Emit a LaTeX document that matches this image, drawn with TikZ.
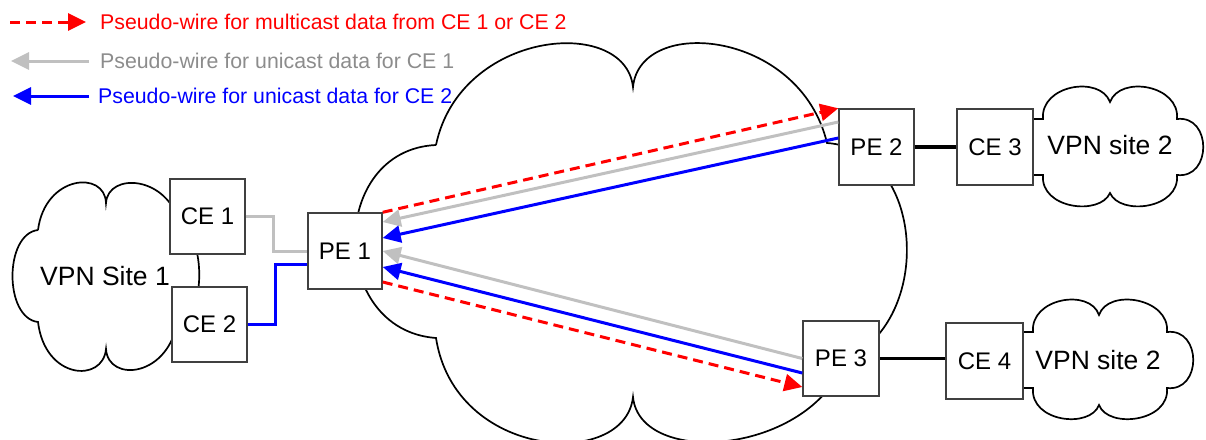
\documentclass[tikz,border=0pt]{standalone}
\usepackage{fontspec}
\setmainfont{Liberation Sans}
\usetikzlibrary{arrows.meta}
\definecolor{pwred}{RGB}{255,0,0}
\definecolor{pwgray}{RGB}{192,192,192}
\definecolor{pwgraytext}{RGB}{140,140,140}
\definecolor{pwblue}{RGB}{0,0,255}
\definecolor{boxline}{RGB}{64,64,64}
\tikzset{
  box/.style={draw=boxline, line width=1.4pt, fill=white, minimum width=75pt, minimum height=75pt, inner sep=0pt, font=\fontsize{24}{28}\selectfont},
  cloudline/.style={draw=black, line width=1.7pt},
  cloudtext/.style={font=\fontsize{26.5}{30}\selectfont, inner sep=0pt},
  legendtext/.style={font=\fontsize{21.3}{25}\selectfont, anchor=west, inner sep=0pt},
  tip/.style={-{Triangle[length=18pt,width=17pt]}},
  redwire/.style={pwred, line width=3pt, dash pattern=on 10pt off 6pt, tip},
  graywire/.style={pwgray, line width=3pt, tip},
  bluewire/.style={pwblue, line width=3pt, tip},
  link/.style={black, line width=3.2pt}
}
\begin{document}
\begin{tikzpicture}[x=1pt,y=-1pt]
\useasboundingbox (0,0) rectangle (1206,439);
% big provider cloud
\draw[cloudline] (436,145) .. controls (460,30) and (625,15) .. (633,87)
  .. controls (640,15) and (800,30) .. (827,143)
  .. controls (925,150) and (935,320) .. (845,360)
  .. controls (810,455) and (640,468) .. (633,397)
  .. controls (625,470) and (455,460) .. (436,338)
  .. controls (328,330) and (328,150) .. (436,145);
% VPN Site 1 cloud
\draw[cloudline] (38,230) .. controls (45,175) and (105,170) .. (106,203)
  .. controls (108,172) and (168,175) .. (180,225)
  .. controls (206,235) and (206,320) .. (178,318)
  .. controls (170,378) and (108,383) .. (106,349)
  .. controls (103,383) and (45,380) .. (38,322)
  .. controls (4,318) and (4,234) .. (38,230);
% VPN site 2 upper cloud
\draw[cloudline] (1033,119) -- (1043,119)
  .. controls (1040,85) and (1100,75) .. (1110,102)
  .. controls (1120,75) and (1180,85) .. (1177,119)
  .. controls (1212,115) and (1212,179) .. (1177,175)
  .. controls (1180,209) and (1120,216) .. (1110,193)
  .. controls (1100,216) and (1040,209) .. (1043,175) -- (1033,175);
% VPN site 2 lower cloud
\draw[cloudline] (1023,332) -- (1033,332)
  .. controls (1030,298) and (1090,288) .. (1099,315)
  .. controls (1108,288) and (1170,298) .. (1167,332)
  .. controls (1202,328) and (1202,392) .. (1167,388)
  .. controls (1170,422) and (1108,429) .. (1099,405)
  .. controls (1090,429) and (1030,422) .. (1033,388) -- (1023,388);
% cloud labels
\node[cloudtext] (site1) at (105,276) {VPN Site 1};
\node[cloudtext] (site2a) at (1110,145) {VPN site 2};
\node[cloudtext] (site2b) at (1098,360) {VPN site 2};
% boxes
\node[box] (ce1) at (207.5,216.5) {CE 1};
\node[box] (ce2) at (209.5,324.5) {CE 2};
\node[box, minimum width=74pt, minimum height=76pt] (pe1) at (345,251) {PE 1};
\node[box, minimum height=76pt] (pe2) at (876.5,147) {PE 2};
\node[box, minimum width=76pt, minimum height=76pt] (ce3) at (995,147) {CE 3};
\node[box, minimum width=76pt] (pe3) at (841,358.5) {PE 3};
\node[box, minimum width=77pt, minimum height=76pt] (ce4) at (984.5,361) {CE 4};
% access links
\draw[pwgray, line width=3pt] (ce1.east) -- ++(28,0) |- (pe1.west);
\draw[pwblue, line width=3pt] (ce2.east) -- ++(28,0) |- ([yshift=-13pt]pe1.west);
\draw[link] (pe2.east) -- (ce3.west);
\draw[link] (pe3.east) -- (pe3.east -| ce4.west);
% pseudo-wires
\draw[redwire] (pe1.north east) -- (pe2.north west);
\draw[graywire] ([yshift=25pt]pe2.west) -- ([yshift=29pt]pe1.east);
\draw[bluewire] ([yshift=9pt]pe2.west) -- ([yshift=13pt]pe1.east);
\draw[graywire] (pe3.west) -- (pe1.east);
\draw[bluewire] ([yshift=-14.5pt]pe3.west) -- ([yshift=-16pt]pe1.east);
\draw[redwire] ([yshift=-31pt]pe1.east) -- ([yshift=-28.5pt]pe3.west);
% legend
\coordinate (l1a) at (10,22); \coordinate (l1b) at (86,22);
\coordinate (l2a) at (89,61); \coordinate (l2b) at (11,61);
\coordinate (l3a) at (89,96); \coordinate (l3b) at (13,96);
\draw[redwire] (l1a) -- (l1b);
\draw[graywire] (l2a) -- (l2b);
\draw[bluewire] (l3a) -- (l3b);
\node[legendtext, text=pwred] (t1) at (100,22) {Pseudo-wire for multicast data from CE 1 or CE 2};
\node[legendtext, text=pwgraytext] (t2) at (100,61) {Pseudo-wire for unicast data for CE 1};
\node[legendtext, text=pwblue] (t3) at (98,96) {Pseudo-wire for unicast data for CE 2};
\end{tikzpicture}
\end{document}
